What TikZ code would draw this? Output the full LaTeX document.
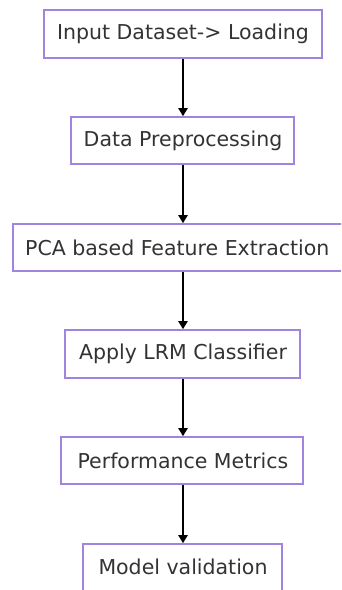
\documentclass[tikz,border=0pt]{standalone}
\usepackage{fontspec}
\setmainfont{DejaVu Sans}
\usetikzlibrary{arrows.meta}
\definecolor{boxborder}{HTML}{A084E0}
\definecolor{txt}{HTML}{333333}
\begin{document}
\begin{tikzpicture}[x=1pt,y=-1pt,
  box/.style={draw=boxborder,line width=1.5pt,fill=white},
  lbl/.style={text=txt,font=\fontsize{20.5}{23}\selectfont,inner sep=0pt},
  conn/.style={draw=black,line width=2pt,-{Triangle[length=8pt,width=9pt]}}]
\useasboundingbox (0,0) rectangle (341,590);
\clip (0,0) rectangle (341,590);
\fill[white] (0,0) rectangle (341,590);
\path[box] (44,10) rectangle (322,58);
\node[lbl] (a) at (183,34) {Input Dataset-> Loading};
\path[box] (71,117) rectangle (294,164);
\node[lbl] (b) at (183,140.5) {Data Preprocessing};
\path[box] (13,224) rectangle (360,271);
\node[lbl,anchor=west] (c) at (25,247.5) {PCA based Feature Extraction};
\path[box] (65,330) rectangle (300,378);
\node[lbl] (d) at (183,354) {Apply LRM Classifier};
\path[box] (61,437) rectangle (303,484);
\node[lbl] (e) at (183,460.5) {Performance Metrics};
\path[box] (83,544) rectangle (282,600);
\node[lbl] (f) at (183,567) {Model validation};
\coordinate (a1) at (183,58.8); \coordinate (b0) at (183,116.2);
\coordinate (b1) at (183,164.8); \coordinate (c0) at (183,223.2);
\coordinate (c1) at (183,271.8); \coordinate (d0) at (183,329.2);
\coordinate (d1) at (183,378.8); \coordinate (e0) at (183,436.2);
\coordinate (e1) at (183,484.8); \coordinate (f0) at (183,543.2);
\draw[conn] (a1) -- (b0);
\draw[conn] (b1) -- (c0);
\draw[conn] (c1) -- (d0);
\draw[conn] (d1) -- (e0);
\draw[conn] (e1) -- (f0);
\end{tikzpicture}
\end{document}
